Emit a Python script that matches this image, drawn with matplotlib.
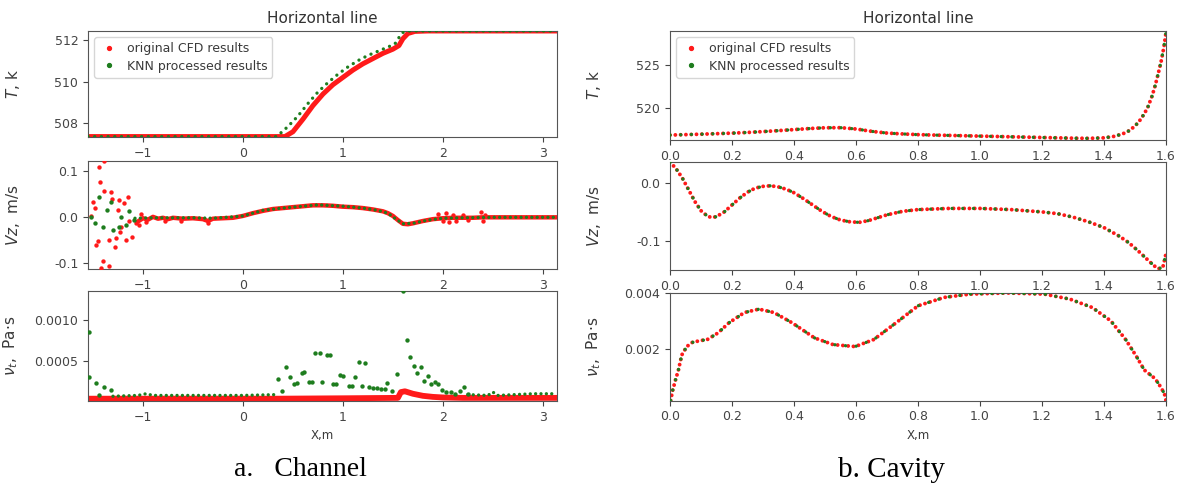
import matplotlib
matplotlib.use("Agg")
import matplotlib.pyplot as plt
from matplotlib.lines import Line2D
from matplotlib.ticker import FormatStrFormatter

plt.rcParams['font.family'] = ['DejaVu Sans']
plt.rcParams['font.size'] = 9
plt.rcParams['text.color'] = '#3a3a3a'
plt.rcParams['axes.labelcolor'] = '#3a3a3a'
plt.rcParams['xtick.color'] = '#444444'
plt.rcParams['ytick.color'] = '#444444'
plt.rcParams['axes.edgecolor'] = '#555555'

RED = '#ff1a1a'
GREEN = '#1e7d1e'

# ---------------- Channel (left column) ----------------
CH_T_RED_X = [-1.55, 0.42, 0.5, 0.6, 0.7, 0.8, 0.9, 1.0, 1.1, 1.2, 1.3, 1.4, 1.5,
              1.56, 1.6, 1.65, 1.72, 1.85, 3.14]
CH_T_RED = [507.37, 507.37, 507.6, 508.2, 508.85, 509.4, 509.85, 510.2, 510.55,
            510.85, 511.1, 511.35, 511.55, 511.72, 512.05, 512.3, 512.4, 512.42, 512.42]
CH_T_GRN_X = [-1.55, 0.33, 0.38, 0.45, 0.55, 0.65, 0.75, 0.85, 0.95, 1.05, 1.15,
              1.25, 1.35, 1.45, 1.52, 1.56, 1.6, 1.65, 1.75, 3.14]
CH_T_GRN = [507.37, 507.37, 507.55, 507.85, 508.35, 508.95, 509.5, 509.95, 510.35,
            510.7, 511.0, 511.25, 511.45, 511.65, 511.8, 512.1, 512.35, 512.42,
            512.42, 512.42]

CH_VZ_RED_X = [-1.05, -1.0, -0.95, -0.9, -0.85, -0.8, -0.75, -0.7, -0.6, -0.5, -0.4,
               -0.35, -0.3, -0.2, -0.1, 0.0, 0.1, 0.2, 0.3, 0.4, 0.5, 0.6, 0.7, 0.8,
               0.9, 1.0, 1.1, 1.2, 1.3, 1.4, 1.45, 1.5, 1.55, 1.6, 1.65, 1.7, 1.8,
               1.9, 2.0, 2.1, 2.2, 2.3, 2.4, 2.5, 2.7, 2.9, 3.14]
CH_VZ_RED = [-0.01, -0.003, -0.006, 0.0, -0.004, -0.002, -0.005, -0.002, -0.004,
             -0.003, -0.005, -0.009, -0.004, -0.003, -0.002, 0.002, 0.008, 0.013,
             0.017, 0.019, 0.021, 0.023, 0.025, 0.025, 0.024, 0.022, 0.021, 0.019,
             0.016, 0.012, 0.008, 0.002, -0.007, -0.015, -0.016, -0.014, -0.009,
             -0.005, -0.003, -0.002, -0.002, -0.002, -0.001, -0.001, -0.001,
             -0.001, -0.001]
CH_VZ_GRN_X = [-1.08, -0.9, -0.7, -0.5, -0.3, -0.1, 0.0, 0.1, 0.2, 0.35, 0.5, 0.75,
               1.0, 1.2, 1.35, 1.45, 1.52, 1.6, 1.7, 1.85, 2.0, 2.2, 2.5, 3.14]
CH_VZ_GRN = [-0.003, -0.002, -0.002, -0.002, -0.003, 0.0, 0.002, 0.008, 0.014,
             0.018, 0.021, 0.026, 0.023, 0.019, 0.014, 0.008, -0.003, -0.015,
             -0.014, -0.007, -0.003, -0.002, -0.001, -0.001]

# scattered points (inlet noise and spikes)
CH_VZ_RED_PTS_X = [-1.436, -1.50, -1.475, -1.52, -1.43, -1.386, -1.32, -1.31, -1.24,
                   -1.25, -1.15, -1.19, -1.14, -1.22, -1.23, -1.34, -1.27, -1.17,
                   -1.11, -1.45, -1.47, -1.28, -1.40, -1.34, -1.42, -1.39, -1.07,
                   -1.04, -1.02, -0.97, -0.78, -0.62, -0.35, 1.95, 2.0, 2.03, 2.06,
                   2.1, 2.13, 2.2, 2.25, 2.38, 2.4, 2.42]
CH_VZ_RED_PTS = [0.109, 0.033, 0.019, 0.001, 0.075, 0.056, 0.053, 0.039, 0.037,
                 0.015, 0.044, 0.030, -0.010, -0.021, -0.032, -0.050, -0.046, -0.050,
                 -0.044, -0.053, -0.062, -0.065, -0.096, -0.107, -0.111, 0.12,
                 -0.014, -0.017, 0.006, -0.012, -0.010, -0.008, -0.013, 0.006,
                 -0.010, 0.008, -0.012, 0.005, -0.008, 0.004, -0.006, 0.010, -0.009,
                 0.004]
CH_VZ_GRN_PTS_X = [-1.435, -1.36, -1.32, -1.475, -1.40, -1.30, -1.24, -1.22, -1.14,
                   -1.17, -1.52, -1.09]
CH_VZ_GRN_PTS = [0.044, 0.015, 0.033, -0.014, -0.023, -0.028, -0.021, -0.001, 0.012,
                 -0.017, -0.001, -0.006]

CH_NU_RED_X = [-1.55, 0.35, 1.0, 1.55, 1.58, 1.62, 1.7, 1.8, 1.9, 2.0, 2.2, 3.14]
CH_NU_RED = [0.00004, 0.00004, 0.000045, 0.00005, 0.00012, 0.00013, 0.0001,
             0.000075, 0.000062, 0.000055, 0.00005, 0.00005]
CH_NU_GRN_X = [-1.3, -1.05, -0.97, -0.9, 0.0, 0.35]
CH_NU_GRN = [0.00007, 0.00008, 0.0001, 0.00008, 0.00008, 0.00009]
CH_NU_GRN_TAIL_X = [2.25, 2.45, 2.5, 2.55, 2.9, 3.14]
CH_NU_GRN_TAIL = [0.00009, 0.00008, 0.00012, 0.00008, 0.0001, 0.0001]
CH_NU_GRN_PTS_X = [-1.535, -1.535, -1.47, -1.39, -1.32, -1.44, 0.349, 0.393, 0.426,
                   0.47, 0.51, 0.545, 0.59, 0.61, 0.658, 0.69, 0.725, 0.77, 0.79,
                   0.84, 0.87, 0.90, 0.93, 0.974, 1.0, 1.057, 1.09, 1.12, 1.157,
                   1.19, 1.223, 1.256, 1.30, 1.34, 1.38, 1.42, 1.446, 1.49, 1.54,
                   1.60, 1.64, 1.67, 1.71, 1.74, 1.78, 1.81, 1.85, 1.88, 1.92, 1.95,
                   1.99, 2.03, 2.08, 2.12, 2.17, 2.21, 2.25]
CH_NU_GRN_PTS = [0.000309, 0.000857, 0.000228, 0.00018, 0.000146, 0.000085,
                 0.000277, 0.000138, 0.000423, 0.0003, 0.000219, 0.000228,
                 0.000357, 0.00036, 0.00024, 0.00024, 0.0006, 0.0006, 0.00024,
                 0.00057, 0.00057, 0.00022, 0.00022, 0.00033, 0.00032, 0.000195,
                 0.000195, 0.0003, 0.00049, 0.00019, 0.00047, 0.00018, 0.00017,
                 0.000165, 0.00016, 0.00016, 0.000228, 0.000134, 0.00034, 0.00135,
                 0.000756, 0.000553, 0.00044, 0.000357, 0.000422, 0.000256,
                 0.000317, 0.000215, 0.000247, 0.000215, 0.000142, 0.000125,
                 0.00012, 0.000102, 0.00013, 0.000183, 0.000094]

# ---------------- Cavity (right column) ----------------
CV_T_X = [0.0, 0.05, 0.1, 0.15, 0.2, 0.25, 0.3, 0.35, 0.4, 0.45, 0.5, 0.55, 0.6,
          0.65, 0.7, 0.75, 0.8, 0.85, 0.9, 0.95, 1.0, 1.05, 1.1, 1.15, 1.2, 1.25,
          1.3, 1.35, 1.4, 1.43, 1.46, 1.48, 1.50, 1.52, 1.54, 1.555, 1.565, 1.575,
          1.585, 1.593, 1.6]
CV_T = [516.92, 516.97, 517.02, 517.08, 517.14, 517.22, 517.32, 517.43, 517.55,
        517.67, 517.76, 517.77, 517.62, 517.35, 517.15, 517.05, 516.97, 516.92,
        516.88, 516.84, 516.8, 516.76, 516.72, 516.68, 516.64, 516.6, 516.56,
        516.54, 516.6, 516.75, 517.05, 517.4, 517.95, 518.8, 520.0, 521.4, 522.6,
        524.0, 525.5, 527.0, 528.7]

CV_VZ_X = [0.0, 0.02, 0.04, 0.06, 0.08, 0.10, 0.12, 0.135, 0.15, 0.175, 0.20,
           0.225, 0.25, 0.275, 0.30, 0.325, 0.35, 0.375, 0.40, 0.43, 0.46, 0.49,
           0.52, 0.55, 0.58, 0.61, 0.64, 0.67, 0.70, 0.75, 0.80, 0.85, 0.90, 0.95,
           1.00, 1.05, 1.10, 1.15, 1.20, 1.25, 1.30, 1.35, 1.40, 1.45, 1.48, 1.51,
           1.54, 1.56, 1.575, 1.59, 1.60]
CV_VZ = [0.036, 0.024, 0.008, -0.012, -0.032, -0.048, -0.057, -0.06, -0.058, -0.05,
         -0.038, -0.026, -0.016, -0.009, -0.006, -0.005, -0.007, -0.011, -0.017,
         -0.027, -0.038, -0.049, -0.058, -0.064, -0.067, -0.068, -0.065, -0.06,
         -0.055, -0.049, -0.046, -0.045, -0.044, -0.044, -0.044, -0.045, -0.046,
         -0.048, -0.05, -0.053, -0.059, -0.067, -0.077, -0.092, -0.103, -0.117,
         -0.132, -0.142, -0.148, -0.145, -0.122]

CV_NU_X = [0.002, 0.008, 0.018, 0.027, 0.038, 0.054, 0.072, 0.096, 0.12, 0.155,
           0.19, 0.24, 0.287, 0.335, 0.394, 0.466, 0.526, 0.597, 0.657, 0.729, 0.80,
           0.884, 0.968, 1.088, 1.207, 1.29, 1.362, 1.422, 1.47, 1.505, 1.53, 1.565,
           1.583, 1.595, 1.6]
CV_NU = [0.000146, 0.00049, 0.0009, 0.00124, 0.00178, 0.00208, 0.00223, 0.00229,
         0.00233, 0.00257, 0.00293, 0.0033, 0.00342, 0.0033, 0.00293, 0.00239,
         0.00215, 0.00208, 0.00233, 0.00293, 0.00354, 0.00384, 0.00396, 0.004,
         0.00396, 0.00378, 0.00348, 0.003, 0.00233, 0.00172, 0.00124, 0.00093,
         0.00063, 0.00039, 0.00015]

CH_XTICKS = [-1, 0, 1, 2, 3]
CV_XTICKS = [0.0, 0.2, 0.4, 0.6, 0.8, 1.0, 1.2, 1.4, 1.6]


def dots(ax, x, y, color, size, gap, z):
    # evenly spaced round dots along the data path
    ax.plot(x, y, color=color, lw=size, ls=(0, (0.01, gap)),
            dash_capstyle='round', solid_capstyle='round', zorder=z)


def style_axis(ax, xlim, ylim, xticks, yticks, fmt, label, lab_x):
    ax.set_xlim(*xlim)
    ax.set_ylim(*ylim)
    ax.set_xticks(xticks)
    ax.set_yticks(yticks)
    ax.yaxis.set_major_formatter(FormatStrFormatter(fmt))
    ax.set_ylabel(label, fontsize=11)
    ax.yaxis.set_label_coords(lab_x, 0.5)
    ax.tick_params(labelsize=9, length=3.5, width=0.8)


def add_legend(ax):
    handles = [
        Line2D([], [], ls='none', marker='o', ms=2.8, color=RED, mec=RED),
        Line2D([], [], ls='none', marker='o', ms=2.8, color=GREEN, mec=GREEN),
    ]
    ax.legend(handles, ['original CFD results', 'KNN processed results'],
              loc='upper left', fontsize=9, frameon=True, handletextpad=0.6,
              borderpad=0.4, labelspacing=0.35, handlelength=1.6)


def draw_channel(fig):
    ax_t = fig.add_axes([0.0747, 0.7187, 0.398, 0.2177])
    ax_v = fig.add_axes([0.0747, 0.4476, 0.398, 0.2218])
    ax_n = fig.add_axes([0.0747, 0.1766, 0.398, 0.2259])

    ax_t.plot(CH_T_RED_X, CH_T_RED, color=RED, lw=3.6, zorder=2)
    dots(ax_t, CH_T_GRN_X, CH_T_GRN, GREEN, 2.4, 2.0, 3)
    style_axis(ax_t, (-1.55, 3.14), (507.35, 512.42), CH_XTICKS, [508, 510, 512],
               '%d', r'$T$, k', -0.14)
    ax_t.set_title('Horizontal line', fontsize=11, color='#333333')
    add_legend(ax_t)

    ax_v.plot(CH_VZ_RED_X, CH_VZ_RED, color=RED, lw=3.2, zorder=2)
    ax_v.scatter(CH_VZ_RED_PTS_X, CH_VZ_RED_PTS, s=10, color=RED, lw=0, zorder=3)
    dots(ax_v, CH_VZ_GRN_X, CH_VZ_GRN, GREEN, 2.4, 1.6, 4)
    ax_v.scatter(CH_VZ_GRN_PTS_X, CH_VZ_GRN_PTS, s=10, color=GREEN, lw=0, zorder=4)
    style_axis(ax_v, (-1.55, 3.14), (-0.113, 0.121), CH_XTICKS, [-0.1, 0.0, 0.1],
               '%.1f', r'$Vz$,  m/s', -0.14)

    ax_n.plot(CH_NU_RED_X, CH_NU_RED, color=RED, lw=4.2, zorder=2)
    dots(ax_n, CH_NU_GRN_X, CH_NU_GRN, GREEN, 2.4, 1.6, 3)
    dots(ax_n, CH_NU_GRN_TAIL_X, CH_NU_GRN_TAIL, GREEN, 2.4, 1.6, 3)
    ax_n.scatter(CH_NU_GRN_PTS_X, CH_NU_GRN_PTS, s=10, color=GREEN, lw=0, zorder=3)
    style_axis(ax_n, (-1.55, 3.14), (0.000012, 0.00135), CH_XTICKS, [0.0005, 0.0010],
               '%.4f', r'$\nu_t$,  Pa·s', -0.145)
    ax_n.set_xlabel('X,m', fontsize=8.5)


def draw_cavity(fig):
    ax_t = fig.add_axes([0.5688, 0.7125, 0.421, 0.2238])
    ax_v = fig.add_axes([0.5688, 0.4456, 0.421, 0.2224])
    ax_n = fig.add_axes([0.5688, 0.1772, 0.421, 0.2218])

    dots(ax_t, CV_T_X, CV_T, RED, 2.8, 1.35, 2)
    dots(ax_t, CV_T_X, CV_T, GREEN, 2.4, 3.2, 3)
    style_axis(ax_t, (0, 1.6), (516.35, 528.9), CV_XTICKS, [520, 525], '%d',
               r'$T$, k', -0.135)
    ax_t.set_title('Horizontal line', fontsize=11, color='#333333')
    add_legend(ax_t)

    dots(ax_v, CV_VZ_X, CV_VZ, RED, 2.8, 1.35, 2)
    dots(ax_v, CV_VZ_X, CV_VZ, GREEN, 2.4, 3.2, 3)
    style_axis(ax_v, (0, 1.6), (-0.15, 0.0365), CV_XTICKS, [-0.1, 0.0], '%.1f',
               r'$Vz$,  m/s', -0.135)

    dots(ax_n, CV_NU_X, CV_NU, RED, 2.8, 1.35, 2)
    dots(ax_n, CV_NU_X, CV_NU, GREEN, 2.4, 3.2, 3)
    style_axis(ax_n, (0, 1.6), (0.00014, 0.00401), CV_XTICKS, [0.002, 0.004], '%.3f',
               r'$\nu_t$,  Pa·s', -0.135)
    ax_n.set_xlabel('X,m', fontsize=8.5)


def main():
    fig = plt.figure(figsize=(11.78, 4.87), dpi=100)
    draw_channel(fig)
    draw_cavity(fig)

    fig.text(0.255, 0.035, 'a.   Channel', fontsize=20, family='Liberation Serif',
             color='black', ha='center', va='center')
    fig.text(0.757, 0.035, 'b. Cavity', fontsize=21, family='Liberation Serif',
             color='black', ha='center', va='center')

    fig.savefig('out.png', dpi=100)
    plt.close(fig)


if __name__ == "__main__":
    main()
